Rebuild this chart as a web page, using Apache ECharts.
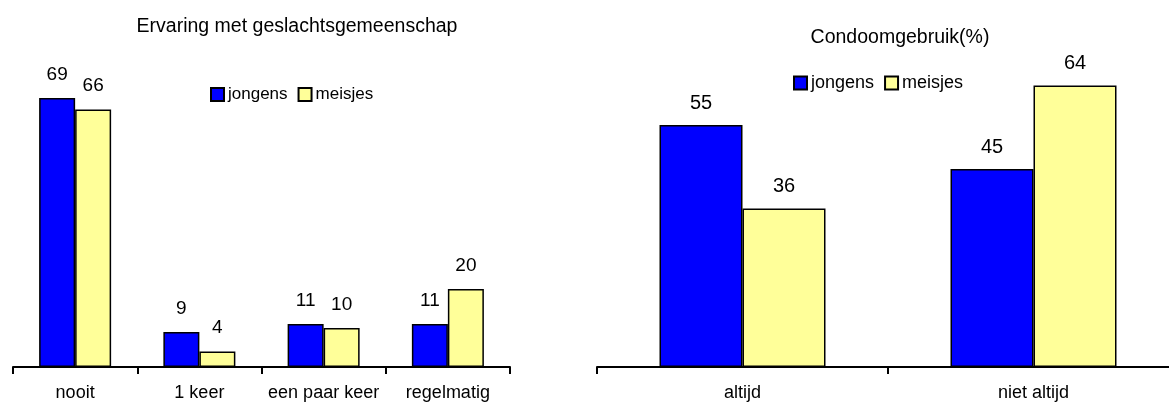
<!DOCTYPE html>
<html>
<head>
<meta charset="utf-8">
<script src="https://cdn.jsdelivr.net/npm/echarts@6/dist/echarts.min.js"></script>
<style>
  html, body { margin: 0; padding: 0; background: #fff; }
  #chart { width: 1169px; height: 409px; }
</style>
</head>
<body>
<div id="chart"></div>
<script>
// Ervaring met geslachtsgemeenschap (left panel)
const ervaringCategories = ['nooit', '1 keer', 'een paar keer', 'regelmatig'];
const ervaringJongens = [69, 9, 11, 11];
const ervaringMeisjes = [66, 4, 10, 20];

// Condoomgebruik in procenten (right panel)
const condoomCategories = ['altijd', 'niet altijd'];
const condoomJongens = [55, 45];
const condoomMeisjes = [36, 64];

const seriesNames = ['jongens', 'meisjes'];
const BLUE = '#0000FF';
const YELLOW = '#FFFF99';
const FONT = '"Liberation Sans", Arial, sans-serif';

const chart = echarts.init(document.getElementById('chart'), null, { renderer: 'canvas' });

function barSeries(name, data, idx, color, width, fontSize, dist) {
  return {
    name: name,
    type: 'bar',
    xAxisIndex: idx,
    yAxisIndex: idx,
    data: data,
    barWidth: width,
    barGap: '0%',
    itemStyle: { color: color, borderColor: '#000', borderWidth: 1.5 },
    label: {
      show: true,
      position: 'top',
      distance: dist,
      color: '#000',
      fontFamily: FONT,
      fontSize: fontSize
    },
    emphasis: { disabled: true },
    animation: false
  };
}

const legendBase = {
  data: seriesNames,
  orient: 'horizontal',
  icon: 'rect',
  itemWidth: 13,
  itemHeight: 13,
  itemGap: 10,
  itemStyle: { borderColor: '#000', borderWidth: 2 },
  selectedMode: false
};

const xAxisBase = {
  type: 'category',
  boundaryGap: true,
  axisLine: { show: true, lineStyle: { color: '#000', width: 2 } },
  axisTick: { show: true, length: 7, lineStyle: { color: '#000', width: 2 } },
  splitLine: { show: false }
};

const option = {
  backgroundColor: '#fff',
  animation: false,
  title: [
    {
      text: 'Ervaring met geslachtsgemeenschap',
      left: 292, top: 12, textAlign: 'center',
      textStyle: { fontFamily: FONT, fontSize: 19.5, fontWeight: 'normal', color: '#000' }
    },
    {
      text: 'Condoomgebruik(%)',
      left: 895, top: 23, textAlign: 'center',
      textStyle: { fontFamily: FONT, fontSize: 19.5, fontWeight: 'normal', color: '#000' }
    }
  ],
  legend: [
    Object.assign({}, legendBase, {
      left: 205, top: 81,
      textStyle: { fontFamily: FONT, fontSize: 17, color: '#000', padding: [0, 0, 0, -1] }
    }),
    Object.assign({}, legendBase, {
      left: 788, top: 69,
      textStyle: { fontFamily: FONT, fontSize: 18, color: '#000', padding: [0, 0, 0, -1] }
    })
  ],
  grid: [
    { left: 13, width: 497, top: 94, bottom: 42, outerBoundsMode: 'none' },
    // the right panel's axis runs on past the edge of the canvas
    { left: 597, width: 582, top: 59, bottom: 42, outerBoundsMode: 'none' }
  ],
  xAxis: [
    Object.assign({}, xAxisBase, {
      gridIndex: 0,
      data: ervaringCategories,
      axisLabel: { interval: 0, margin: 17, color: '#000', fontFamily: FONT, fontSize: 18 }
    }),
    Object.assign({}, xAxisBase, {
      gridIndex: 1,
      data: condoomCategories,
      axisLabel: { interval: 0, margin: 17, color: '#000', fontFamily: FONT, fontSize: 18 }
    })
  ],
  yAxis: [
    { type: 'value', gridIndex: 0, min: 0, max: 70, show: false, splitLine: { show: false } },
    { type: 'value', gridIndex: 1, min: 0, max: 70, show: false, splitLine: { show: false } }
  ],
  series: [
    barSeries(seriesNames[0], ervaringJongens, 0, BLUE, 36, 19, 14),
    barSeries(seriesNames[1], ervaringMeisjes, 0, YELLOW, 36, 19, 14),
    barSeries(seriesNames[0], condoomJongens, 1, BLUE, 83, 20, 12),
    barSeries(seriesNames[1], condoomMeisjes, 1, YELLOW, 83, 20, 12)
  ]
};

chart.setOption(option);
</script>
</body>
</html>
